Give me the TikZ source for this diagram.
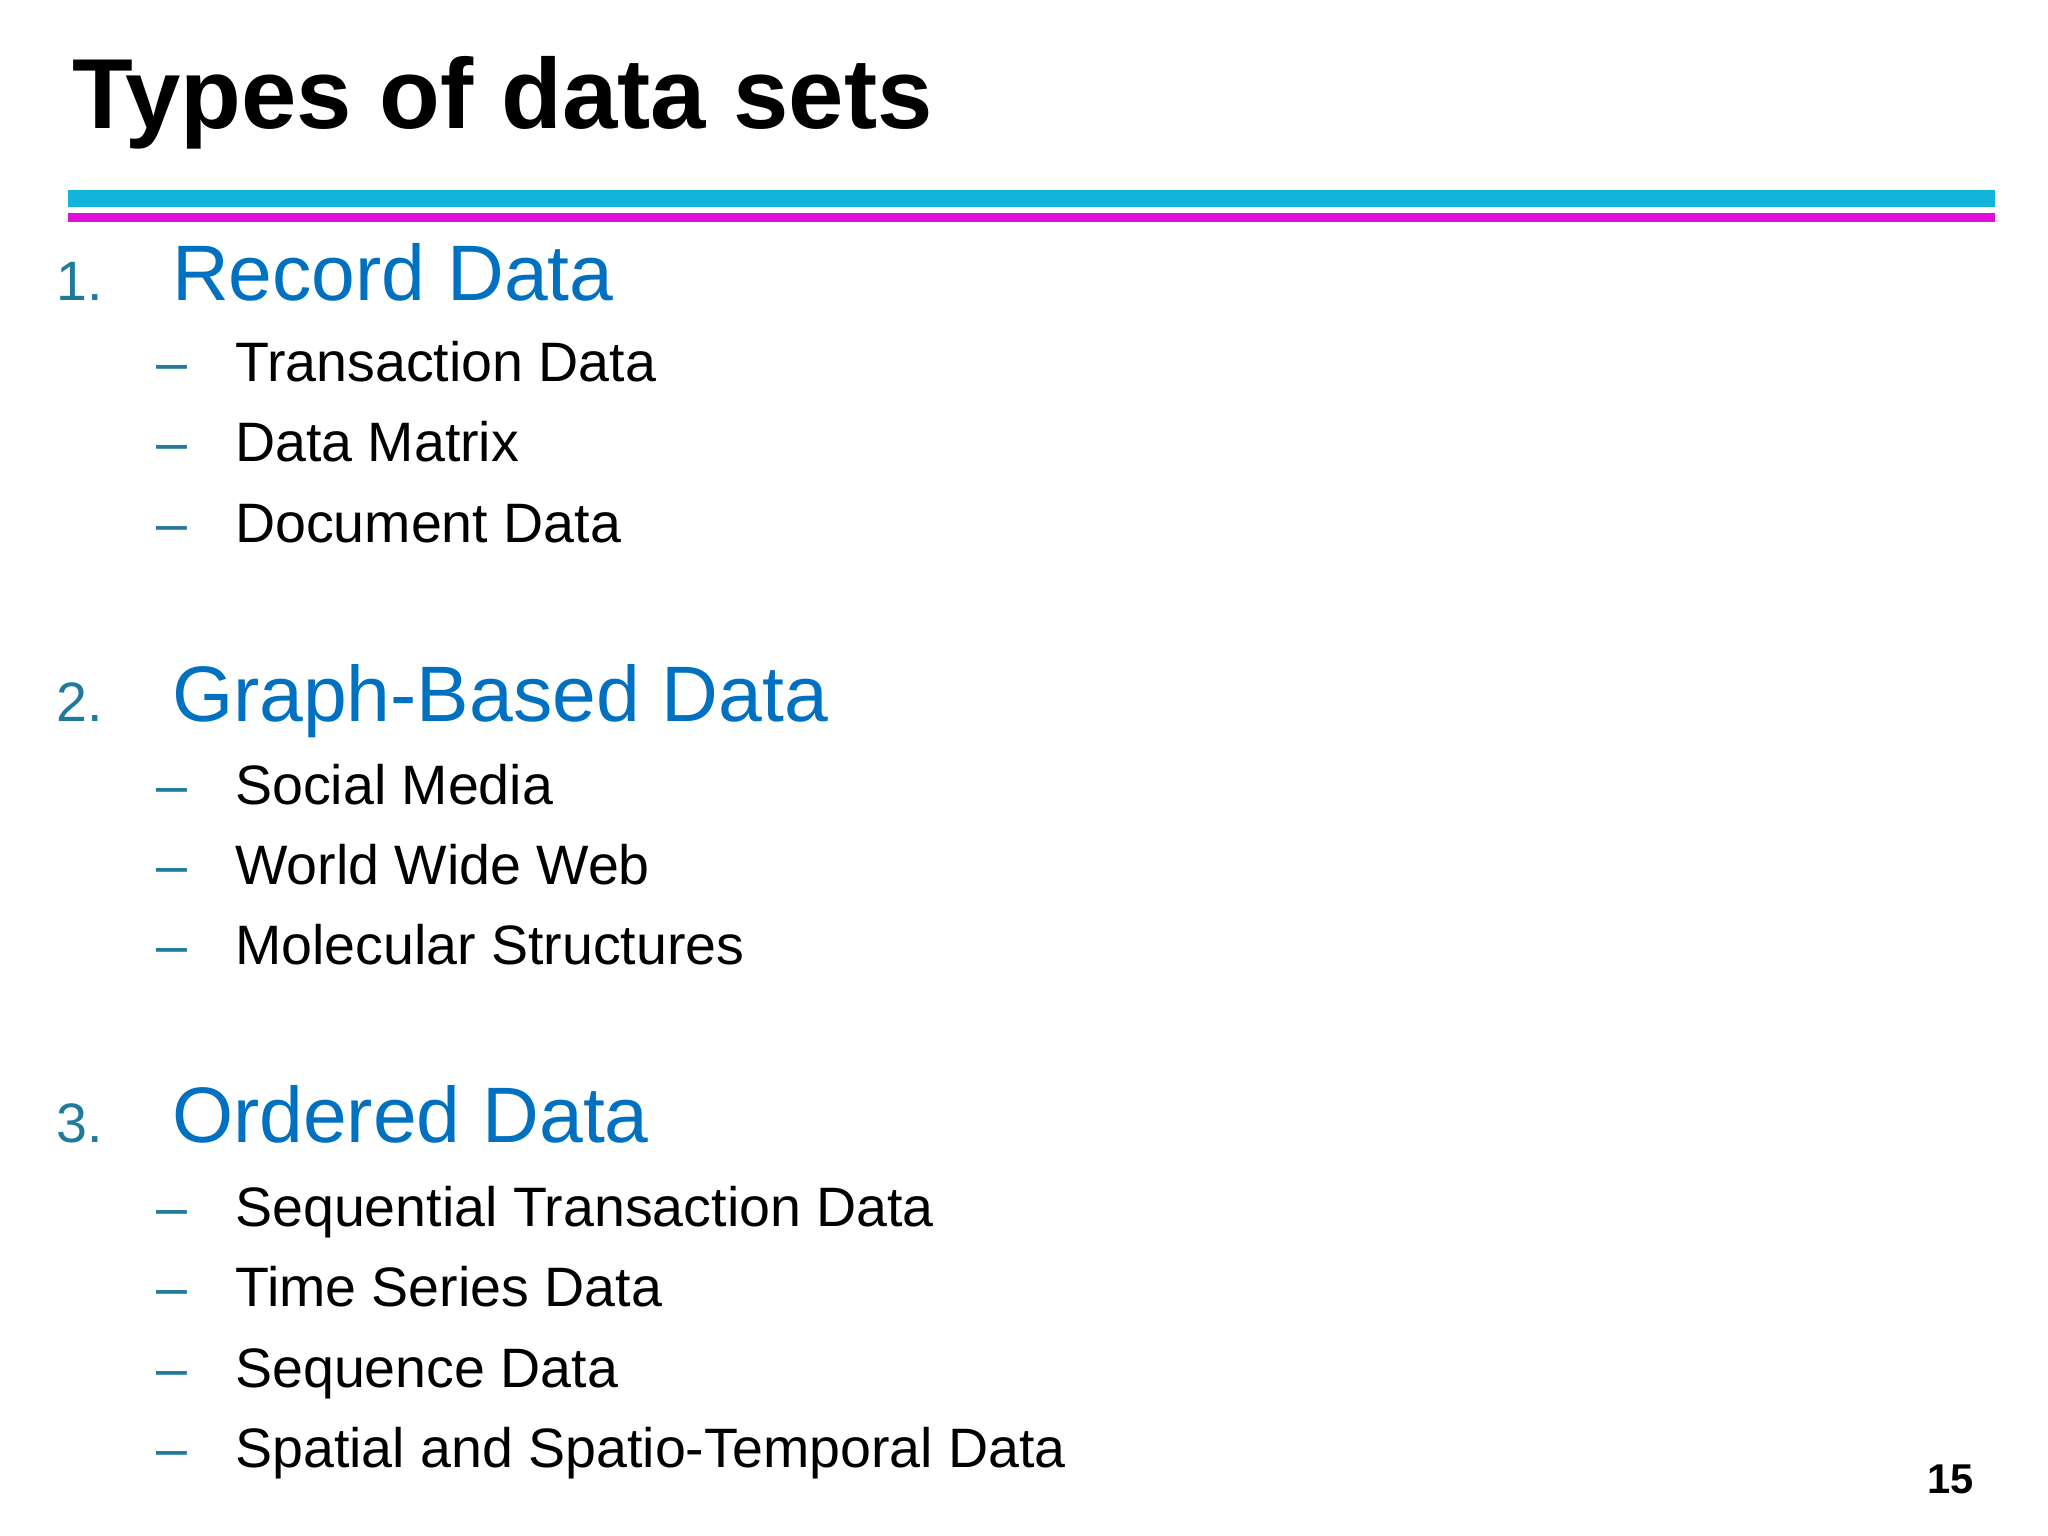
\documentclass[tikz,border=0pt]{standalone}
\usepackage{fontspec}
\setmainfont{Liberation Sans}
\definecolor{headblue}{HTML}{0070C0}
\definecolor{numteal}{HTML}{1F7A9C}
\definecolor{barcyan}{HTML}{12B4DC}
\definecolor{barmag}{HTML}{E010D8}
\tikzset{
  heading/.style = {anchor = base west, inner sep = 0, text = headblue, font = \fontsize{17}{20}\selectfont},
  number/.style = {anchor = base west, inner sep = 0, text = numteal, font = \fontsize{12}{14}\selectfont},
  item/.style = {anchor = base west, inner sep = 0, font = \fontsize{12}{14}\selectfont},
  dashmark/.style = {anchor = base west, inner sep = 0, text = numteal, font = \fontsize{12}{14}\selectfont}
}
\begin{document}
\begin{tikzpicture}[x = 0.01cm, y = -0.01cm]
\useasboundingbox (0,0) rectangle (1556,1167);
\node[anchor = base west, inner sep = 0, font = \fontsize{21.5}{24}\selectfont\bfseries] (title) at (54,98) {Types of data sets};
\fill[barcyan] (52,144) rectangle (1516,157);
\fill[barmag] (52,162) rectangle (1516,169);
%% headings
\foreach \n/\y/\t in {1/228/Record Data, 2/548/Graph-Based Data, 3/868/Ordered Data}{
  \node[number] (num\n) at (42,\y) {\n.};
  \node[heading] (head\n) at (130,\y) {\t};
}
%% sub items
\foreach \y/\t [count = \i] in {290/Transaction Data, 351/Data Matrix, 412/Document Data,
    611/Social Media, 672/World Wide Web, 733/Molecular Structures,
    932/Sequential Transaction Data, 993/Time Series Data, 1054/Sequence Data,
    1115/Spatial and Spatio-Temporal Data}{
  \node[dashmark] (dash\i) at (118,\y) {–};
  \node[item] (item\i) at (178,\y) {\t};
}
\node[anchor = base east, inner sep = 0, font = \fontsize{9}{11}\selectfont\bfseries] (page) at (1500,1135) {15};
\end{tikzpicture}
\end{document}
